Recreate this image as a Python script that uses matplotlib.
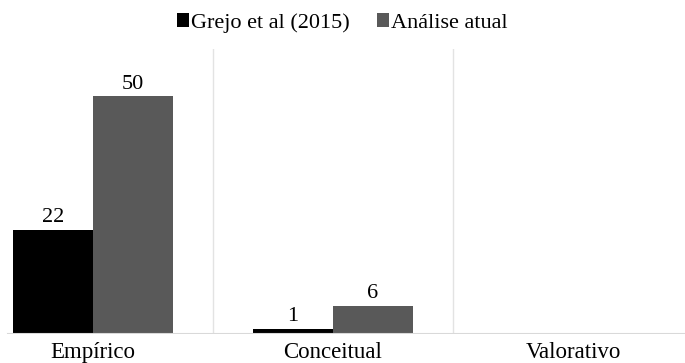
import matplotlib
matplotlib.use("Agg")
import matplotlib.pyplot as plt
import numpy as np

categories = ["Empírico", "Conceitual", "Valorativo"]
grejo = [22, 1, 0]
atual = [50, 6, 0]
series_names = ["Grejo et al (2015)", "Análise atual"]

plt.rcParams["font.family"] = ["Liberation Serif", "DejaVu Serif"]

W, H = 685, 363
fig = plt.figure(figsize=(W / 100, H / 100), dpi=100)

# plot area runs slightly past the left and right image edges
left_px, right_px, top_px, base_px = -27, 693, 49, 334
ax = fig.add_axes([left_px / W, 1 - base_px / H,
                   (right_px - left_px) / W, (base_px - top_px) / H])

x = np.arange(len(categories))
w = 1 / 3
b1 = ax.bar(x - w / 2, grejo, w, color="#000000", label=series_names[0])
b2 = ax.bar(x + w / 2, atual, w, color="#595959", label=series_names[1])

for bars, vals in ((b1, grejo), (b2, atual)):
    for bar, v in zip(bars, vals):
        if v == 0:
            continue
        ax.text(bar.get_x() + bar.get_width() / 2, v + 0.6, str(v),
                ha="center", va="bottom", fontsize=16)

ax.set_xlim(-0.5, len(categories) - 0.5)
ax.set_ylim(0, 60)

# category separators
for s in x[:-1] + 0.5:
    ax.axvline(s, color="#e3e3e3", lw=1, zorder=0)
ax.axhline(0, xmin=(8 - left_px) / (right_px - left_px), color="#d9d9d9", lw=1.5, zorder=3)

for sp in ax.spines.values():
    sp.set_visible(False)
ax.set_yticks([])
ax.set_xticks(x)
ax.set_xticklabels(categories, fontsize=16.5)
ax.tick_params(axis="x", length=0, pad=6)

fig.legend(loc="center", bbox_to_anchor=(0.5, 1 - 23 / H), ncol=2, frameon=False,
           fontsize=16, handlelength=0.55, handleheight=0.55, handletextpad=0.1,
           columnspacing=1.2, borderaxespad=0)

fig.savefig("out.png", dpi=100)
